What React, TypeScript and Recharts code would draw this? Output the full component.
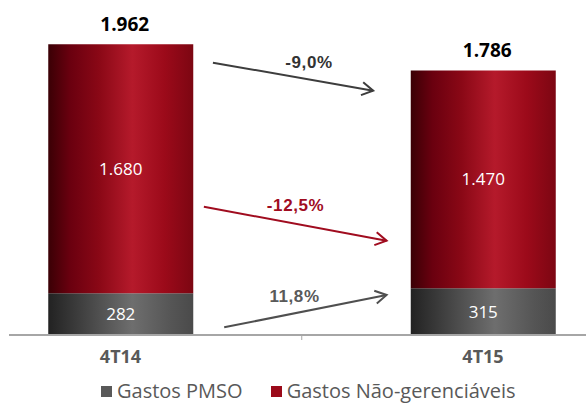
import React from 'react';
import {
  BarChart,
  Bar,
  XAxis,
  YAxis,
  LabelList,
  Legend,
  ReferenceLine,
  ReferenceDot,
} from 'recharts';

const categories = ['4T14', '4T15'];
const categoryPos = [0, 1];
const pmso = [282, 315];
const naoGerenciaveis = [1680, 1470];
const totals = [1962, 1786];
const seriesNames = ['Gastos PMSO', 'Gastos Não-gerenciáveis'];

// variation arrows, in chart units (x = category position, y = value)
const changeLabels = ['-9,0%', '-12,5%', '11,8%'];
const arrowFrom = [[0.255, 1838], [0.23, 866], [0.286, 52]];
const arrowTo = [[0.697, 1649], [0.734, 636], [0.734, 270]];
const labelAt = [[0.52, 1839], [0.483, 872], [0.48, 263]];

const arrowColors = ['#3d3d3d', '#a00c1f', '#4f4f4f'];
const labelColors = ['#333333', '#a00c1f', '#595959'];
const legendColors = ['#595959', '#9b0a1a'];

const data = categories.map((c, i) => ({
  name: c,
  x: categoryPos[i],
  pmso: pmso[i],
  ng: naoGerenciaveis[i],
}));

const fmt = (n: number) =>
  n >= 1000 ? `${Math.floor(n / 1000)}.${String(n % 1000).padStart(3, '0')}` : String(n);

const SANS = '"Open Sans", sans-serif';
const ARIAL = '"Liberation Sans", Arial, sans-serif';

const Arrow = (color: string) => (props: any) => {
  const { x1, y1, x2, y2 } = props;
  const a = Math.atan2(y2 - y1, x2 - x1);
  const len = 13;
  const spread = Math.PI / 6;
  const ax1 = x2 - len * Math.cos(a - spread);
  const ay1 = y2 - len * Math.sin(a - spread);
  const ax2 = x2 - len * Math.cos(a + spread);
  const ay2 = y2 - len * Math.sin(a + spread);
  return (
    <g>
      <line x1={x1} y1={y1} x2={x2} y2={y2} stroke={color} strokeWidth={2} />
      <polyline
        points={`${ax1},${ay1} ${x2},${y2} ${ax2},${ay2}`}
        fill="none"
        stroke={color}
        strokeWidth={2}
      />
    </g>
  );
};

const CategoryTick = (props: any) => {
  const { x, y, payload } = props;
  const axisY = y - 8;
  if (payload.value === 0.5) {
    return <line x1={x} y1={axisY} x2={x} y2={axisY + 5} stroke="#a6a6a6" strokeWidth={1} />;
  }
  const idx = categoryPos.indexOf(payload.value);
  return (
    <text
      x={x}
      y={y + 20}
      textAnchor="middle"
      fill="#595959"
      fontFamily={SANS}
      fontWeight={700}
      fontSize={18}
    >
      {categories[idx]}
    </text>
  );
};

const TotalLabel = (props: any) => {
  const { x, y, width, index } = props;
  return (
    <text
      x={x + width / 2 + 4}
      y={y - 13}
      textAnchor="middle"
      fill="#000"
      fontFamily={SANS}
      fontWeight={700}
      fontSize={19}
    >
      {fmt(totals[index])}
    </text>
  );
};

const LegendContent = () => (
  <div style={{ display: 'flex', alignItems: 'center', lineHeight: '24px', height: 24 }}>
    {seriesNames.map((n, i) => (
      <div key={n} style={{ display: 'flex', alignItems: 'center', marginRight: 28 }}>
        <span
          style={{ width: 11, height: 11, background: legendColors[i], marginRight: 5, display: 'inline-block' }}
        />
        <span style={{ fontFamily: SANS, fontSize: 20, color: '#595959', whiteSpace: 'nowrap' }}>{n}</span>
      </div>
    ))}
  </div>
);

export default function App() {
  return (
    <div style={{ position: 'absolute', left: 0, top: 0 }}>
      <BarChart width={586} height={403} data={data} margin={{ top: 9, right: 0, left: 9, bottom: 28 }}>
        <defs>
          <linearGradient id="gRed" x1="0" y1="0" x2="1" y2="0">
            <stop offset="0%" stopColor="#3a0005" />
            <stop offset="15%" stopColor="#6a000f" />
            <stop offset="35%" stopColor="#8a0816" />
            <stop offset="58%" stopColor="#b51a2b" />
            <stop offset="80%" stopColor="#9c0a1a" />
            <stop offset="100%" stopColor="#7c0612" />
          </linearGradient>
          <linearGradient id="gGray" x1="0" y1="0" x2="1" y2="0">
            <stop offset="0%" stopColor="#222222" />
            <stop offset="20%" stopColor="#3c3c3c" />
            <stop offset="58%" stopColor="#6e6e6e" />
            <stop offset="85%" stopColor="#555555" />
            <stop offset="100%" stopColor="#4a4a4a" />
          </linearGradient>
        </defs>
        <XAxis
          dataKey="x"
          type="number"
          domain={[-0.3076, 1.2841]}
          allowDataOverflow
          ticks={[0, 0.5, 1]}
          tick={<CategoryTick />}
          tickLine={false}
          axisLine={{ stroke: '#a6a6a6', strokeWidth: 2 }}
          height={40}
          interval={0}
        />
        <YAxis hide domain={[0, 2200]} />
        <Legend
          layout="horizontal"
          verticalAlign="middle"
          align="center"
          content={<LegendContent />}
          wrapperStyle={{ top: 379, left: 101, width: 480, height: 24 }}
        />
        <Bar dataKey="pmso" name={seriesNames[0]} stackId="a" fill="url(#gGray)" barSize={145} isAnimationActive={false}>
          <LabelList dataKey="pmso" position="center" fill="#ffffff" fontFamily={SANS} fontSize={17} formatter={(v: any) => fmt(v)} />
        </Bar>
        <Bar dataKey="ng" name={seriesNames[1]} stackId="a" fill="url(#gRed)" barSize={145} isAnimationActive={false}>
          <LabelList dataKey="ng" position="center" fill="#ffffff" fontFamily={SANS} fontSize={17} formatter={(v: any) => fmt(v)} />
          <LabelList dataKey="ng" content={<TotalLabel />} />
        </Bar>
        {changeLabels.map((l, i) => (
          <ReferenceLine
            key={l}
            segment={[
              { x: arrowFrom[i][0], y: arrowFrom[i][1] },
              { x: arrowTo[i][0], y: arrowTo[i][1] },
            ]}
            shape={Arrow(arrowColors[i])}
          />
        ))}
        {changeLabels.map((l, i) => (
          <ReferenceDot
            key={`lbl-${l}`}
            x={labelAt[i][0]}
            y={labelAt[i][1]}
            r={1}
            shape={(p: any) => (
              <text
                x={p.cx}
                y={p.cy}
                textAnchor="middle"
                dominantBaseline="central"
                fill={labelColors[i]}
                fontFamily={ARIAL}
                fontWeight={700}
                fontSize={17}
                letterSpacing={0.6}
              >
                {l}
              </text>
            )}
          />
        ))}
      </BarChart>
    </div>
  );
}
